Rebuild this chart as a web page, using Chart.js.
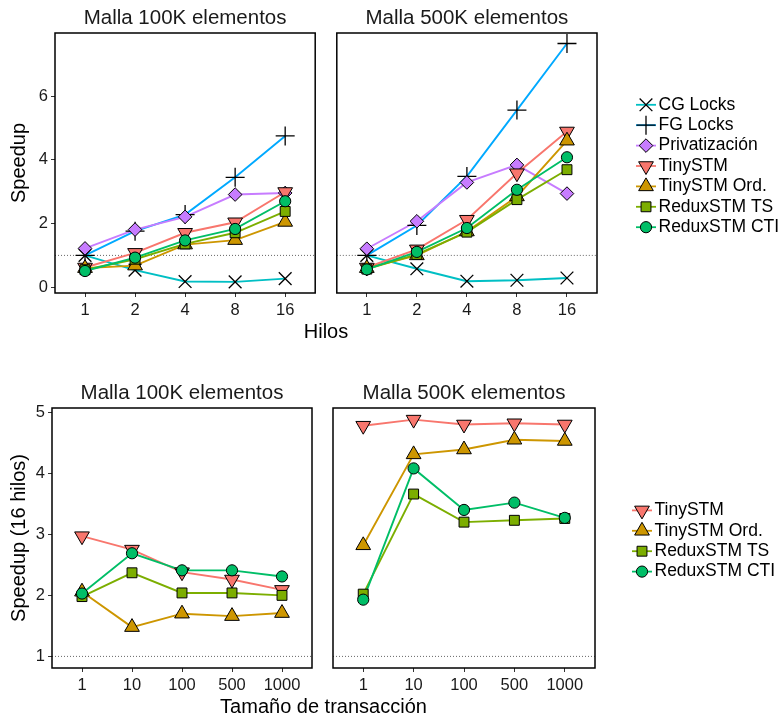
<!DOCTYPE html>
<html lang="es">
<head>
<meta charset="UTF-8">
<script src="https://cdn.jsdelivr.net/npm/chart.js"></script>
<title>Speedup</title>
<style>
  body { margin: 0; background: #fff; }
  #fig { position: relative; width: 783px; height: 715px; font-family: "Liberation Sans", Arial, sans-serif; }
  #fig canvas { position: absolute; }
  .xtitle { position: absolute; font-size: 20px; line-height: 20px; transform: translateX(-50%); white-space: nowrap; color: #000; }
</style>
</head>
<body>
<div id="fig">
  <canvas id="c1" width="326" height="357" style="left:0;top:0"></canvas>
  <canvas id="c2" width="457" height="357" style="left:326px;top:0"></canvas>
  <canvas id="c3" width="322" height="358" style="left:0;top:357px"></canvas>
  <canvas id="c4" width="461" height="358" style="left:322px;top:357px"></canvas>
  <div class="xtitle" style="left:326px;top:321px">Hilos</div>
  <div class="xtitle" style="left:323.5px;top:696px">Tamaño de transacción</div>
</div>
<script>
// categorias del eje x
const hilos = ['1', '2', '4', '8', '16'];
const tamTx = ['1', '10', '100', '500', '1000'];

// speedup frente al numero de hilos, malla 100K
const cgLocks100k = [1.00, 0.54, 0.18, 0.17, 0.27];
const fgLocks100k = [1.00, 1.76, 2.28, 3.45, 4.75];
const priv100k = [1.22, 1.81, 2.21, 2.91, 2.96];
const tiny100k = [0.62, 1.08, 1.71, 2.04, 2.99];
const tinyOrd100k = [0.60, 0.68, 1.34, 1.48, 2.05];
const reduxTs100k = [0.55, 0.88, 1.36, 1.71, 2.38];
const reduxCti100k = [0.51, 0.93, 1.47, 1.83, 2.70];

// speedup frente al numero de hilos, malla 500K
const cgLocks500k = [1.00, 0.58, 0.19, 0.22, 0.29];
const fgLocks500k = [1.00, 1.94, 3.48, 5.56, 7.65];
const priv500k = [1.21, 2.07, 3.29, 3.84, 2.94];
const tiny500k = [0.62, 1.19, 2.12, 3.58, 4.89];
const tinyOrd500k = [0.60, 1.00, 1.75, 2.85, 4.60];
const reduxTs500k = [0.57, 1.03, 1.73, 2.75, 3.69];
const reduxCti500k = [0.56, 1.11, 1.86, 3.06, 4.08];

// speedup con 16 hilos frente al tamaño de transaccion
const tinyTx100k = [2.97, 2.75, 2.38, 2.26, 2.09];
const tinyOrdTx100k = [2.06, 1.48, 1.70, 1.66, 1.71];
const reduxTsTx100k = [1.98, 2.37, 2.04, 2.04, 2.00];
const reduxCtiTx100k = [2.03, 2.69, 2.41, 2.41, 2.31];

const tinyTx500k = [4.78, 4.88, 4.80, 4.82, 4.80];
const tinyOrdTx500k = [2.82, 4.31, 4.39, 4.55, 4.53];
const reduxTsTx500k = [2.02, 3.66, 3.20, 3.23, 3.26];
const reduxCtiTx500k = [1.93, 4.08, 3.40, 3.52, 3.27];

// ticks del eje y
const ticksHilos = [0, 2, 4, 6];
const ticksTx = [1, 2, 3, 4, 5];
const referencia = 1;

// estilo de cada serie
const estilos = {
  'CG Locks':      { color: '#00BFC4', point: 'crossRot', r: 9,   fill: null,      bw: 1.3 },
  'FG Locks':      { color: '#00A9FF', point: 'cross',    r: 9.5, fill: null,      bw: 1.3 },
  'Privatización': { color: '#C77CFF', point: 'rectRot',  r: 6.8, fill: '#C77CFF', bw: 1 },
  'TinySTM':       { color: '#F8766D', point: 'triangle', r: 8.5, fill: '#F8766D', bw: 1, rot: 180 },
  'TinySTM Ord.':  { color: '#CD9600', point: 'triangle', r: 8.5, fill: '#CD9600', bw: 1 },
  'ReduxSTM TS':   { color: '#7CAE00', point: 'rect',     r: 7,   fill: '#7CAE00', bw: 1 },
  'ReduxSTM CTI':  { color: '#00BE67', point: 'circle',   r: 5.6, fill: '#00BE67', bw: 1 }
};

Chart.defaults.font.family = '"Liberation Sans", Arial, sans-serif';
Chart.defaults.animation = false;

// mismo trazado que los puntos de Chart.js, para la leyenda
function marcador(ctx, e, x, y) {
  const r = e.r;
  let rad = (e.rot || 0) * Math.PI / 180;
  ctx.beginPath();
  switch (e.point) {
    case 'circle':
      ctx.arc(x, y, r, 0, Math.PI * 2);
      break;
    case 'rect': {
      const s = Math.SQRT1_2 * r;
      ctx.rect(x - s, y - s, 2 * s, 2 * s);
      break;
    }
    case 'rectRot':
      ctx.moveTo(x - r, y);
      ctx.lineTo(x, y - r);
      ctx.lineTo(x + r, y);
      ctx.lineTo(x, y + r);
      ctx.closePath();
      break;
    case 'triangle':
      ctx.moveTo(x + Math.sin(rad) * r, y - Math.cos(rad) * r);
      rad += Math.PI * 2 / 3;
      ctx.lineTo(x + Math.sin(rad) * r, y - Math.cos(rad) * r);
      rad += Math.PI * 2 / 3;
      ctx.lineTo(x + Math.sin(rad) * r, y - Math.cos(rad) * r);
      ctx.closePath();
      break;
    case 'cross':
      ctx.moveTo(x - r, y); ctx.lineTo(x + r, y);
      ctx.moveTo(x, y - r); ctx.lineTo(x, y + r);
      break;
    case 'crossRot': {
      const d = Math.SQRT1_2 * r;
      ctx.moveTo(x - d, y - d); ctx.lineTo(x + d, y + d);
      ctx.moveTo(x - d, y + d); ctx.lineTo(x + d, y - d);
      break;
    }
  }
  if (e.fill) {
    ctx.fillStyle = e.fill;
    ctx.fill();
  }
  ctx.strokeStyle = '#000';
  ctx.lineWidth = e.bw;
  ctx.stroke();
}

// marco del panel, linea de referencia y titulo
const marco = {
  id: 'marco',
  beforeDatasetsDraw(chart) {
    const { ctx, chartArea: a, scales: { y } } = chart;
    const py = y.getPixelForValue(referencia);
    ctx.save();
    ctx.strokeStyle = '#666';
    ctx.lineWidth = 1;
    ctx.setLineDash([1, 2]);
    ctx.beginPath();
    ctx.moveTo(a.left, py);
    ctx.lineTo(a.right, py);
    ctx.stroke();
    ctx.restore();
  },
  afterDraw(chart, args, o) {
    const { ctx, chartArea: a } = chart;
    ctx.save();
    ctx.strokeStyle = '#000';
    ctx.lineWidth = 1.5;
    ctx.strokeRect(a.left, a.top, a.right - a.left, a.bottom - a.top);
    ctx.fillStyle = '#1a1a1a';
    ctx.font = '20.5px "Liberation Sans", Arial, sans-serif';
    ctx.textAlign = 'center';
    ctx.textBaseline = 'alphabetic';
    ctx.fillText(o.titulo, (a.left + a.right) / 2, a.top - 9.5);
    ctx.restore();
  }
};

// leyenda a la derecha del panel
const leyenda = {
  id: 'leyenda',
  afterDraw(chart, args, o) {
    if (!o.items) return;
    const { ctx, chartArea: a } = chart;
    const paso = 20.4;
    const y0 = (a.top + a.bottom) / 2 + 3 - (o.items.length - 1) / 2 * paso;
    const x = a.right + o.dx;
    ctx.save();
    o.items.forEach((nombre, i) => {
      const e = estilos[nombre];
      const y = y0 + i * paso;
      ctx.strokeStyle = e.color;
      ctx.lineWidth = 1.8;
      ctx.beginPath();
      ctx.moveTo(x, y);
      ctx.lineTo(x + 20, y);
      ctx.stroke();
      marcador(ctx, e, x + 10, y);
      ctx.fillStyle = '#000';
      ctx.font = '17.5px "Liberation Sans", Arial, sans-serif';
      ctx.textBaseline = 'middle';
      ctx.fillText(nombre, x + 22.5, y);
    });
    ctx.restore();
  }
};

function panel(id, cfg) {
  const datasets = [];
  cfg.series.forEach(([nombre, valores], i) => {
    const e = estilos[nombre];
    const pts = valores.map((v, k) => ({ x: k + 1, y: v }));
    datasets.push({
      label: nombre, data: pts, borderColor: e.color, borderWidth: 1.9,
      pointRadius: 0, order: 100 - i, clip: false
    });
    datasets.push({
      label: nombre, data: pts, showLine: false, pointStyle: e.point,
      pointRadius: e.r, pointRotation: e.rot || 0,
      pointBackgroundColor: e.fill || 'rgba(0,0,0,0)', pointBorderColor: '#000',
      pointBorderWidth: e.bw, order: -i, clip: false
    });
  });

  const tickFont = { size: 16.5 };
  return new Chart(document.getElementById(id), {
    type: 'line',
    data: { datasets },
    plugins: [marco, leyenda],
    options: {
      responsive: false,
      layout: { padding: cfg.padding },
      events: [],
      plugins: {
        legend: { display: false },
        tooltip: { enabled: false },
        marco: { titulo: cfg.titulo },
        leyenda: cfg.leyenda || {}
      },
      scales: {
        x: {
          type: 'linear', min: 0.4, max: cfg.cats.length + 0.6,
          afterBuildTicks: s => { s.ticks = cfg.cats.map((c, k) => ({ value: k + 1 })); },
          afterFit: s => { s.height = 30; },
          ticks: { callback: (v, k) => cfg.cats[k], font: tickFont, color: '#1a1a1a', padding: 3.5, maxRotation: 0, autoSkip: false },
          grid: { drawOnChartArea: false, tickLength: 4, color: '#333' },
          border: { display: false }
        },
        y: {
          type: 'linear', min: cfg.yMin, max: cfg.yMax, display: cfg.ejeY,
          afterBuildTicks: s => { s.ticks = cfg.yTicks.map(v => ({ value: v })); },
          afterFit: s => { s.width = cfg.ejeY ? cfg.yWidth : 0; },
          ticks: { font: tickFont, color: '#1a1a1a', padding: 3 },
          grid: { drawOnChartArea: false, tickLength: 4, color: '#333' },
          border: { display: false },
          title: { display: cfg.ejeY, text: cfg.yTitulo || '', color: '#000', font: { size: 20 }, padding: { top: 7, bottom: 0 } }
        }
      }
    }
  });
}

const nombresHilos = ['CG Locks', 'FG Locks', 'Privatización', 'TinySTM', 'TinySTM Ord.', 'ReduxSTM TS', 'ReduxSTM CTI'];
const nombresTx = ['TinySTM', 'TinySTM Ord.', 'ReduxSTM TS', 'ReduxSTM CTI'];

const seriesHilos100k = [cgLocks100k, fgLocks100k, priv100k, tiny100k, tinyOrd100k, reduxTs100k, reduxCti100k];
const seriesHilos500k = [cgLocks500k, fgLocks500k, priv500k, tiny500k, tinyOrd500k, reduxTs500k, reduxCti500k];
const seriesTx100k = [tinyTx100k, tinyOrdTx100k, reduxTsTx100k, reduxCtiTx100k];
const seriesTx500k = [tinyTx500k, tinyOrdTx500k, reduxTsTx500k, reduxCtiTx500k];

const zip = (nombres, vals) => nombres.map((n, i) => [n, vals[i]]);

panel('c1', {
  titulo: 'Malla 100K elementos', cats: hilos, series: zip(nombresHilos, seriesHilos100k),
  yMin: -0.18, yMax: 7.98, yTicks: ticksHilos, ejeY: true, yWidth: 55, yTitulo: 'Speedup',
  padding: { left: 0, right: 10, top: 33, bottom: 34 }
});
panel('c2', {
  titulo: 'Malla 500K elementos', cats: hilos, series: zip(nombresHilos, seriesHilos500k),
  yMin: -0.18, yMax: 7.98, yTicks: ticksHilos, ejeY: false,
  padding: { left: 10, right: 186, top: 33, bottom: 34 },
  leyenda: { items: nombresHilos, dx: 39 }
});
panel('c3', {
  titulo: 'Malla 100K elementos', cats: tamTx, series: zip(nombresTx, seriesTx100k),
  yMin: 0.81, yMax: 5.07, yTicks: ticksTx, ejeY: true, yWidth: 52, yTitulo: 'Speedup (16 hilos)',
  padding: { left: 0, right: 10, top: 51, bottom: 17 }
});
panel('c4', {
  titulo: 'Malla 500K elementos', cats: tamTx, series: zip(nombresTx, seriesTx500k),
  yMin: 0.81, yMax: 5.07, yTicks: ticksTx, ejeY: false,
  padding: { left: 11, right: 188, top: 51, bottom: 17 },
  leyenda: { items: nombresTx, dx: 37 }
});
</script>
</body>
</html>
